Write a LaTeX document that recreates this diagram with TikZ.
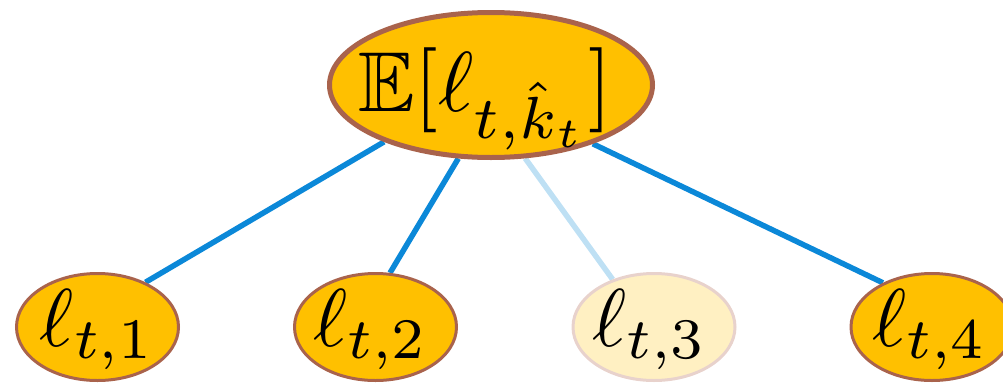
\documentclass[tikz,border=0pt]{standalone}
\usepackage{amssymb}
\usepackage{graphicx}
\usetikzlibrary{shapes.geometric,backgrounds}
\definecolor{gold}{HTML}{FFC000}
\definecolor{brd}{HTML}{A9634C}
\definecolor{lnk}{HTML}{0B88D8}
\definecolor{palegold}{HTML}{FFF0C2}
\definecolor{palebrd}{HTML}{E8D2CC}
\definecolor{palelnk}{HTML}{BEE0F4}
\tikzset{
  topnode/.style={ellipse,draw=brd,fill=gold,line width=5pt,minimum width=323pt,minimum height=145pt,inner sep=0pt},
  leaf/.style={ellipse,draw=brd,fill=gold,line width=3pt,minimum width=162pt,minimum height=107pt,inner sep=0pt},
  paleleaf/.style={leaf,draw=palebrd,fill=palegold},
  lbl/.style={anchor=base,inner sep=0pt},
  link/.style={draw=lnk,line width=5.5pt},
  palelink/.style={draw=palelnk,line width=5.5pt},
}
\newcommand{\topmath}[1]{\scalebox{8.5}{$#1$}}
\newcommand{\leafmath}[1]{\scalebox{8.2}{$#1$}}
\begin{document}
\begin{tikzpicture}[x=1pt,y=-1pt]
\useasboundingbox (0,0) rectangle (1003,383);
\node[topnode] (top) at (491,85) {};
\node[leaf] (b1) at (97.5,327) {};
\node[leaf] (b2) at (375.5,327) {};
\node[paleleaf] (b3) at (654,327) {};
\node[leaf] (b4) at (932,327) {};
\node[lbl] (ttop) at (485,111) {\topmath{\mathbb{E}[\ell_{t,\hat{k}_t}]}};
\node[lbl] (t1) at (97.5,346) {\leafmath{\ell_{t,1}}};
\node[lbl] (t2) at (371,346) {\leafmath{\ell_{t,2}}};
\node[lbl] (t3) at (650,346) {\leafmath{\ell_{t,3}}};
\node[lbl] (t4) at (930,346) {\leafmath{\ell_{t,4}}};
\begin{scope}[on background layer]
\draw[link] (top.208.7) -- (b1.43.5);
\draw[link] (top.246.6) -- (b2.75);
\draw[palelink] (top.295.3) -- (b3.131.8);
\draw[link] (top.330.4) -- (b4.138);
\end{scope}
\end{tikzpicture}
\end{document}
